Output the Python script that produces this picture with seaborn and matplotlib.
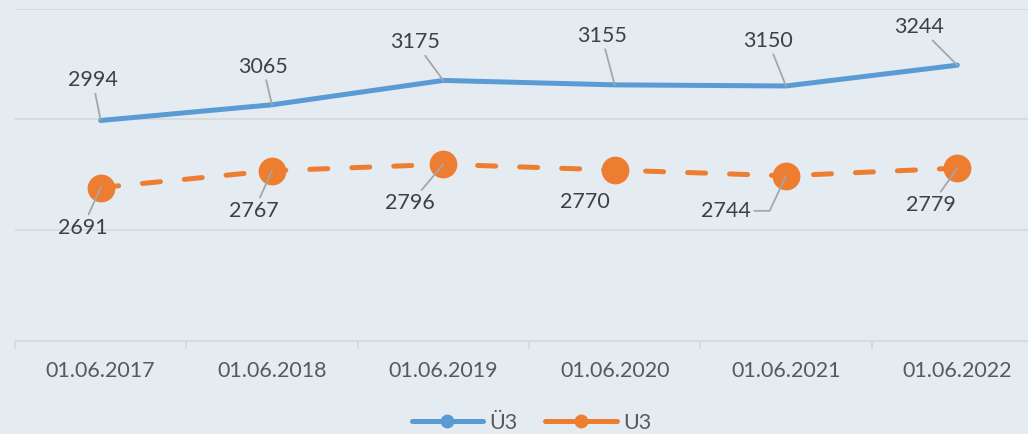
import matplotlib
matplotlib.use("Agg")
import matplotlib.pyplot as plt
from matplotlib.lines import Line2D
import seaborn as sns
import pandas as pd

categories = ["01.06.2017", "01.06.2018", "01.06.2019", "01.06.2020", "01.06.2021", "01.06.2022"]
series_names = ["Ü3", "U3"]
u3_over = [2994, 3065, 3175, 3155, 3150, 3244]
u3_under = [2691, 2767, 2796, 2770, 2744, 2779]

# label offsets (pixels) relative to each point
over_offsets = [(-8, 40), (-9, 38), (-28, 38), (-13, 49), (-18, 45), (-38, 38)]
under_offsets = [(-18, -40), (-18, -40), (-33, -39), (-30, -32), (-60, -35), (-26, -37)]
under_leader = [True, True, True, False, True, True]

BG = "#E4ECF1"
BLUE = "#5B9BD5"
ORANGE = "#ED7D31"
GRID = "#D9D9D9"

sns.set_theme(style="white")
plt.rcParams["font.family"] = ["Lato", "DejaVu Sans"]

fig = plt.figure(figsize=(10.28, 4.34), dpi=100, facecolor=BG)
ax = fig.add_axes([15 / 1028, (434 - 340.5) / 434, 1028 / 1028, 332 / 434])
ax.set_facecolor(BG)

x = list(range(len(categories)))
df_over = pd.DataFrame({"x": x, "y": u3_over})
df_under = pd.DataFrame({"x": x, "y": u3_under})

sns.lineplot(data=df_over, x="x", y="y", ax=ax, color=BLUE, linewidth=3.6,
             solid_capstyle="round", zorder=3)
sns.lineplot(data=df_under, x="x", y="y", ax=ax, color=ORANGE, linewidth=3.6,
             marker="o", markersize=20, markeredgewidth=0, zorder=3,
             dashes=False)
line_u = ax.lines[-1]
line_u.set_dashes([3.6, 4.8])
line_u.set_dash_capstyle("round")

ax.set_xlim(-0.5, len(categories) - 0.5)
ax.set_ylim(2000, 3500)
ax.set_yticks([2000, 2500, 3000, 3500])
ax.yaxis.grid(True, color=GRID, linewidth=1.3)
ax.set_axisbelow(True)
ax.tick_params(axis="y", left=False, labelleft=False)
ax.set_xticks(x)
ax.set_xticklabels(categories)
ax.set_xticks([i - 0.5 for i in range(len(categories) + 1)], minor=True)
ax.tick_params(axis="x", which="major", length=0, pad=15, labelsize=15.5, labelcolor="#595959")
ax.tick_params(axis="x", which="minor", length=6, width=1.3, color=GRID, direction="out", bottom=True)
ax.set_xlabel("")
ax.set_ylabel("")
for s in ["top", "right", "left"]:
    ax.spines[s].set_visible(False)
ax.spines["bottom"].set_color(GRID)
ax.spines["bottom"].set_linewidth(1.3)

arrow = dict(arrowstyle="-", color="#A6A6A6", lw=1.3, shrinkA=0, shrinkB=0)
for i, v in enumerate(u3_over):
    ax.annotate(str(v), xy=(i, v), xytext=over_offsets[i], textcoords="offset pixels",
                ha="center", va="center", fontsize=15.5, color="#404040",
                arrowprops=arrow, zorder=5, annotation_clip=False)
for i, v in enumerate(u3_under):
    props = None
    if under_leader[i]:
        props = dict(arrow)
        if i == 4:
            props["connectionstyle"] = "angle,angleA=0,angleB=65,rad=0"
    ax.annotate(str(v), xy=(i, v), xytext=under_offsets[i], textcoords="offset pixels",
                ha="center", va="center", fontsize=15.5, color="#404040",
                arrowprops=props, zorder=5, annotation_clip=False)

handles = [
    Line2D([0], [0], color=BLUE, linewidth=3.6, marker="o", markersize=10, markeredgewidth=0, solid_capstyle="round"),
    Line2D([0], [0], color=ORANGE, linewidth=3.6, marker="o", markersize=10, markeredgewidth=0, solid_capstyle="round"),
]
fig.legend(handles, series_names, loc="center", bbox_to_anchor=(0.517, 11 / 434), ncol=2,
           frameon=False, fontsize=15.5, labelcolor="#595959", handlelength=3.3,
           handletextpad=0.3, columnspacing=1.3)

fig.savefig("out.png", dpi=100, facecolor=BG)
